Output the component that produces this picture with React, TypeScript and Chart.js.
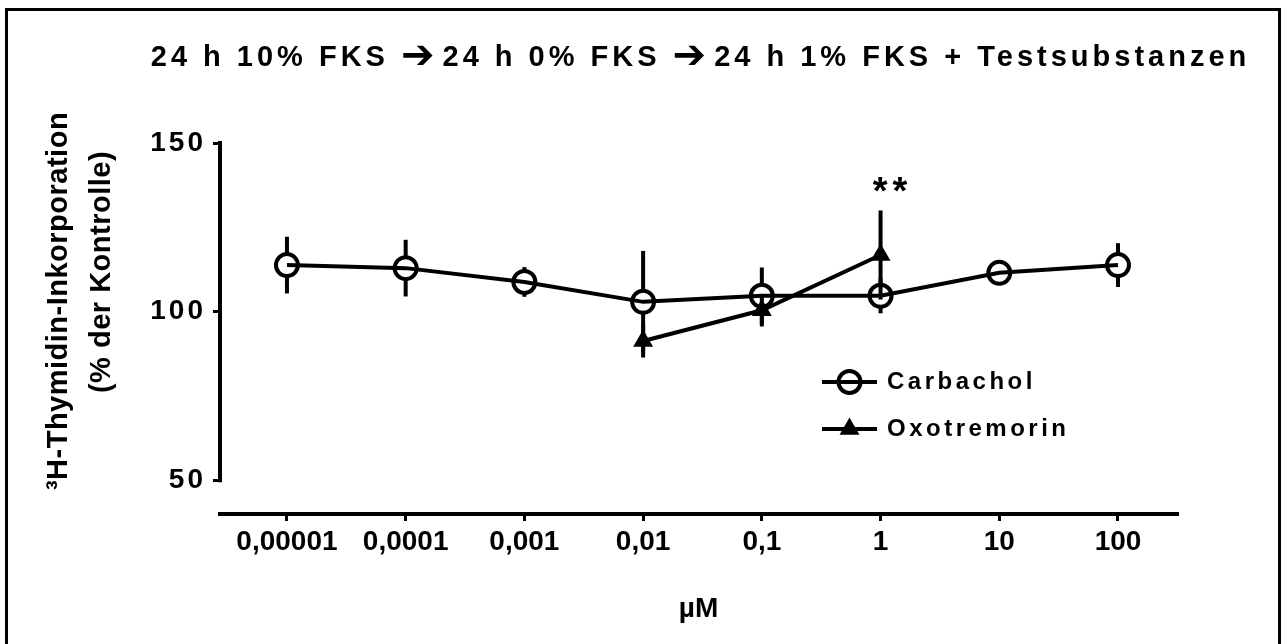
import React, { useEffect, useRef } from 'react';
import { Chart, registerables } from 'chart.js';

Chart.register(...registerables);

// ---------- data ----------
const titleParts = ['24 h 10% FKS ', '➔', '24 h 0% FKS ', '➔', '24 h 1% FKS + Testsubstanzen'];
const yTitleLines = ['³H-Thymidin-Inkorporation', '(% der Kontrolle)'];
const xTitleText = 'µM';
const concLabels = ['0,00001', '0,0001', '0,001', '0,01', '0,1', '1', '10', '100'];
const logConc = [-5, -4, -3, -2, -1, 0, 1, 2];
const yTickValues = [50, 100, 150];
const seriesNames = ['Carbachol', 'Oxotremorin'];
const carbMean = [113.8, 112.9, 108.8, 102.9, 104.7, 104.7, 111.5, 113.8];
const carbSem = [8.4, 8.4, 4.4, 15.1, 8.4, 5.2, 2.5, 6.5];
const oxoMean = [null, null, null, 91.3, 100.4, 116.8, null, null];
const oxoSem = [null, null, null, 4.9, 4.8, 13.2, null, null];
const sigMarks = [{ conc: 0, value: 132, label: '**' }];

const FONT = '"Liberation Sans", Arial, Helvetica, sans-serif';

function drawCircle(ctx: CanvasRenderingContext2D, x: number, y: number, r: number) {
  ctx.beginPath();
  ctx.arc(x, y, r, 0, Math.PI * 2);
  ctx.lineWidth = 4;
  ctx.strokeStyle = '#000';
  ctx.stroke();
}

function drawTriangle(ctx: CanvasRenderingContext2D, x: number, y: number, r: number) {
  ctx.beginPath();
  let rad = 0;
  ctx.moveTo(x + Math.sin(rad) * r, y - Math.cos(rad) * r);
  rad += (2 * Math.PI) / 3;
  ctx.lineTo(x + Math.sin(rad) * r, y - Math.cos(rad) * r);
  rad += (2 * Math.PI) / 3;
  ctx.lineTo(x + Math.sin(rad) * r, y - Math.cos(rad) * r);
  ctx.closePath();
  ctx.fillStyle = '#000';
  ctx.fill();
  ctx.lineWidth = 2;
  ctx.strokeStyle = '#000';
  ctx.stroke();
}

const decorPlugin = {
  id: 'decor',
  beforeDraw(chart: any) {
    const ys = chart.scales.y;
    if (ys && !ys.__lsPatched) {
      const orig = ys.drawLabels.bind(ys);
      ys.drawLabels = (area: any) => {
        const c = chart.ctx as any;
        c.save();
        c.letterSpacing = '3px';
        orig(area);
        c.restore();
      };
      ys.__lsPatched = true;
    }
  },
  afterDatasetsDraw(chart: any) {
    const ctx = chart.ctx as CanvasRenderingContext2D;
    const ys = chart.scales.y;
    ctx.save();
    ctx.strokeStyle = '#000';
    ctx.lineWidth = 4;
    ctx.lineCap = 'butt';
    chart.data.datasets.forEach((ds: any, di: number) => {
      const meta = chart.getDatasetMeta(di);
      const errs = ds.errors as (number | null)[];
      meta.data.forEach((pt: any, i: number) => {
        const m = ds.data[i].y;
        const e = errs[i];
        if (m == null || e == null) return;
        const yTop = ys.getPixelForValue(m + e);
        const yBot = ys.getPixelForValue(m - e);
        const gap = ds.pointStyle === 'circle' ? ds.pointRadius : 0;
        if (yTop < pt.y - gap) {
          ctx.beginPath();
          ctx.moveTo(pt.x, yTop);
          ctx.lineTo(pt.x, pt.y - gap);
          ctx.stroke();
        }
        if (yBot > pt.y + gap) {
          ctx.beginPath();
          ctx.moveTo(pt.x, pt.y + gap);
          ctx.lineTo(pt.x, yBot);
          ctx.stroke();
        }
      });
    });
    ctx.restore();
  },
  afterDraw(chart: any) {
    const ctx = chart.ctx as any;
    const ca = chart.chartArea;
    const xs = chart.scales.x;
    const ys = chart.scales.y;
    const cx = (ca.left + ca.right) / 2;

    // y axis line (offset GraphPad style: only 50..150)
    ctx.save();
    ctx.strokeStyle = '#000';
    ctx.lineWidth = 4;
    ctx.lineCap = 'square';
    ctx.beginPath();
    ctx.moveTo(ca.left, ys.getPixelForValue(yTickValues[yTickValues.length - 1]));
    ctx.lineTo(ca.left, ys.getPixelForValue(yTickValues[0]));
    ctx.stroke();
    ctx.restore();

    // title, drawn piecewise so the arrows can be larger
    ctx.save();
    ctx.fillStyle = '#000';
    ctx.textAlign = 'left';
    ctx.textBaseline = 'alphabetic';
    const textFont = `bold 29px ${FONT}`;
    const arrowFont = `bold 40px "DejaVu Sans", ${FONT}`;
    const parts = titleParts.map((p) => {
      const isArrow = p === '➔';
      ctx.font = isArrow ? arrowFont : textFont;
      ctx.letterSpacing = isArrow ? '8px' : '4px';
      return { p, isArrow, w: ctx.measureText(p).width };
    });
    const total = parts.reduce((a, b) => a + b.w, 0);
    let tx = cx - total / 2 + 2;
    parts.forEach((part) => {
      ctx.font = part.isArrow ? arrowFont : textFont;
      ctx.letterSpacing = part.isArrow ? '8px' : '4px';
      ctx.fillText(part.p, tx, part.isArrow ? 68 : 66);
      tx += part.w;
    });
    ctx.restore();

    // x title
    ctx.save();
    ctx.fillStyle = '#000';
    ctx.font = `bold 28px ${FONT}`;
    ctx.textAlign = 'center';
    ctx.textBaseline = 'alphabetic';
    ctx.fillText(xTitleText, cx, 617);
    ctx.restore();

    // y title (two rotated lines)
    const yTitlePos = [
      { x: 67, y: 301 },
      { x: 110, y: 272 },
    ];
    ctx.save();
    ctx.fillStyle = '#000';
    ctx.font = `bold 29px ${FONT}`;
    ctx.letterSpacing = '0.5px';
    ctx.textAlign = 'center';
    ctx.textBaseline = 'alphabetic';
    yTitleLines.forEach((line, i) => {
      ctx.save();
      ctx.translate(yTitlePos[i].x, yTitlePos[i].y);
      ctx.rotate(-Math.PI / 2);
      ctx.fillText(line, 0, 0);
      ctx.restore();
    });
    ctx.restore();

    // significance marks
    ctx.save();
    ctx.fillStyle = '#000';
    ctx.font = `bold 38px ${FONT}`;
    ctx.letterSpacing = '5px';
    ctx.textAlign = 'center';
    ctx.textBaseline = 'alphabetic';
    sigMarks.forEach((s) => {
      ctx.fillText(s.label, xs.getPixelForValue(s.conc) + 12, ys.getPixelForValue(s.value));
    });
    ctx.restore();

    // legend
    const lx1 = 822;
    const lx2 = 877;
    const rows = [382, 429];
    ctx.save();
    seriesNames.forEach((name, i) => {
      const y = rows[i];
      ctx.strokeStyle = '#000';
      ctx.lineWidth = 4;
      ctx.beginPath();
      ctx.moveTo(lx1, y);
      ctx.lineTo(lx2, y);
      ctx.stroke();
      const mx = (lx1 + lx2) / 2;
      if (i === 0) drawCircle(ctx, mx, y, 11);
      else drawTriangle(ctx, mx, y, 9.5);
      ctx.fillStyle = '#000';
      ctx.font = `bold 24px ${FONT}`;
      ctx.letterSpacing = '3.5px';
      ctx.textAlign = 'left';
      ctx.textBaseline = 'alphabetic';
      ctx.fillText(name, 887, y + 7);
      ctx.letterSpacing = '0px';
    });
    ctx.restore();
  },
};

export default function App() {
  const ref = useRef<HTMLCanvasElement>(null);

  useEffect(() => {
    if (!ref.current) return;
    const chart = new Chart(ref.current, {
      type: 'line',
      data: {
        datasets: [
          {
            label: seriesNames[0],
            data: logConc.map((x, i) => ({ x, y: carbMean[i] })),
            borderColor: '#000',
            borderWidth: 4,
            tension: 0,
            fill: false,
            pointStyle: 'circle',
            pointRadius: 11,
            pointHoverRadius: 11,
            pointBorderWidth: 4,
            pointBorderColor: '#000',
            pointBackgroundColor: 'rgba(0,0,0,0)',
            errors: carbSem,
          } as any,
          {
            label: seriesNames[1],
            data: logConc.map((x, i) => ({ x, y: oxoMean[i] })),
            borderColor: '#000',
            borderWidth: 4,
            tension: 0,
            fill: false,
            pointStyle: 'triangle',
            pointRadius: 9.5,
            pointHoverRadius: 9.5,
            pointBorderWidth: 2,
            pointBorderColor: '#000',
            pointBackgroundColor: '#000',
            errors: oxoSem,
          } as any,
        ],
      },
      options: {
        responsive: false,
        animation: false,
        devicePixelRatio: 1,
        layout: { padding: { left: 0, right: 104, top: 143, bottom: 0 } },
        plugins: {
          legend: { display: false },
          title: { display: false },
          tooltip: { enabled: false },
        },
        events: [],
        scales: {
          x: {
            type: 'linear',
            min: -5.564,
            max: 2.497,
            afterBuildTicks: (s: any) => {
              s.ticks = logConc.map((v) => ({ value: v }));
            },
            afterFit: (s: any) => {
              s.height = 130;
            },
            ticks: {
              autoSkip: false,
              maxRotation: 0,
              minRotation: 0,
              padding: 4,
              color: '#000',
              font: { family: FONT, size: 28, weight: 'bold' },
              callback: (_v: any, i: number) => concLabels[i],
            },
            grid: {
              display: true,
              drawOnChartArea: false,
              drawTicks: true,
              tickLength: 7,
              lineWidth: 3,
              color: '#000',
            },
            border: { display: true, width: 4, color: '#000' },
          },
          y: {
            type: 'linear',
            min: 40,
            max: 150,
            afterBuildTicks: (s: any) => {
              s.ticks = yTickValues.map((v) => ({ value: v }));
            },
            afterFit: (s: any) => {
              s.width = 220;
            },
            ticks: {
              padding: 7,
              color: '#000',
              font: { family: FONT, size: 28, weight: 'bold' },
              callback: (v: any) => String(v),
            },
            grid: {
              display: true,
              drawOnChartArea: false,
              drawTicks: true,
              tickLength: 7,
              lineWidth: 3,
              color: '#000',
            },
            border: { display: false },
          },
        },
      } as any,
      plugins: [decorPlugin],
    });
    return () => chart.destroy();
  }, []);

  return (
    <div
      style={{
        position: 'fixed',
        left: 0,
        top: 0,
        width: 1281,
        height: 644,
        overflow: 'hidden',
        background: '#fff',
      }}
    >
      <canvas ref={ref} width={1281} height={644} style={{ display: 'block' }} />
      <div
        style={{
          position: 'absolute',
          left: 5,
          top: 8,
          width: 1276,
          height: 700,
          border: '3px solid #000',
          boxSizing: 'border-box',
          pointerEvents: 'none',
        }}
      />
    </div>
  );
}
